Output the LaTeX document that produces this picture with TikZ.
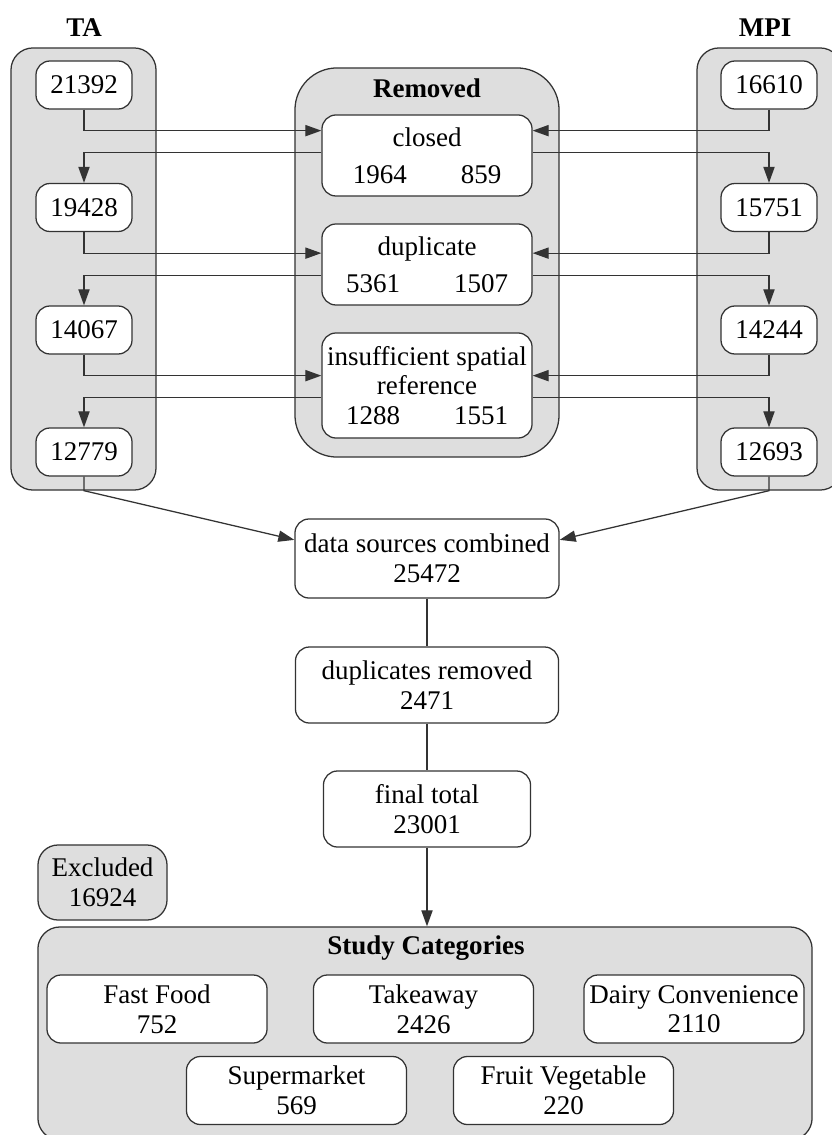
\documentclass[tikz,border=0pt]{standalone}
\usepackage{fontspec}
\setmainfont{Liberation Serif}
\usetikzlibrary{arrows.meta}
\newcommand{\flowfont}{\fontsize{19.2}{21}\selectfont}

\begin{document}
\begin{tikzpicture}[x=0.025cm, y=-0.025cm,
    line/.style={draw=black!80, line width=0.9pt},
    arr/.style={line, -{Triangle[length=0.4cm, width=0.28cm]}},
    group/.style={draw=black!80, line width=0.9pt, fill=black!13, rounded corners=0.55cm},
    box/.style={draw=black!80, line width=0.9pt, fill=white, rounded corners=0.35cm,
        font=\flowfont, align=center, inner sep=2pt},
    numbox/.style={box, minimum width=2.4cm, minimum height=1.2cm},
    catbox/.style={box, minimum width=5.5cm, minimum height=1.7cm},
    title/.style={font=\flowfont\bfseries}]

    \useasboundingbox (0,0) rectangle (832,1135);
    \clip (0,0) rectangle (832,1135);

    % Containers
    \node[group, minimum width=3.625cm, minimum height=11.05cm] (ta) at (83.5,269) {};
    \node[group, minimum width=3.625cm, minimum height=11.05cm] (mpi) at (769.5,269) {};
    \node[group, minimum width=6.6cm, minimum height=9.725cm, rounded corners=1.05cm] (rem) at (427,262.5) {};
    \node[group, minimum width=19.35cm, minimum height=5.325cm] (study) at (425,1033.5) {};

    % Titles
    \node[title] (tatitle) at (84,28) {TA};
    \node[title] (mpititle) at (765,28) {MPI};
    \node[title] (remtitle) at (427,88) {Removed};
    \node[title] (studytitle) at (426,948) {Study Categories};

    % Source counts
    \foreach \n/\y/\v in {1/85/21392, 2/207.5/19428, 3/330/14067, 4/452/12779} {
        \node[numbox] (t\n) at (84,\y) {\v};
    }
    \foreach \n/\y/\v in {1/85/16610, 2/207.5/15751, 3/330/14244, 4/452/12693} {
        \node[numbox] (m\n) at (769,\y) {\v};
    }

    % Removed reasons
    \node[box, minimum width=5.25cm, minimum height=2.025cm] (closed) at (427,155.5)
        {closed\\[5pt]1964\hspace{2em}859};
    \node[box, minimum width=5.25cm, minimum height=2.025cm] (dup) at (427,264.5)
        {duplicate\\[5pt]5361\hspace{2em}1507};
    \node[box, minimum width=5.25cm, minimum height=2.625cm] (insuf) at (427,385.5)
        {insufficient spatial\\reference\\1288\hspace{2em}1551};

    % Main flow
    \node[box, minimum width=6.6cm, minimum height=1.975cm] (dsc) at (427,558.5) {data sources combined\\25472};
    \node[box, minimum width=6.575cm, minimum height=1.9cm] (dr) at (427,685) {duplicates removed\\2471};
    \node[box, minimum width=5.175cm, minimum height=1.9cm] (ft) at (427,809) {final total\\23001};
    \node[box, fill=black!13, minimum width=3.225cm, minimum height=1.875cm, rounded corners=0.5cm] (excl)
        at (102.5,882.5) {Excluded\\16924};

    % Categories
    \node[catbox] (fastfood) at (157,1009) {Fast Food\\752};
    \node[catbox] (takeaway) at (423.5,1009) {Takeaway\\2426};
    \node[catbox] (dairy) at (694,1009) {Dairy Convenience\\2110};
    \node[catbox] (supermkt) at (296.5,1090.5) {Supermarket\\569};
    \node[catbox] (fruitveg) at (563.5,1090.5) {Fruit Vegetable\\220};

    % TA side connectors
    \foreach \i/\j/\r in {1/2/closed, 2/3/dup, 3/4/insuf} {
        \coordinate (tin\i) at ([yshift=-0.525cm]t\i.south);
        \coordinate (tout\i) at ([yshift=0.75cm]t\j.north);
        \draw[arr] (t\i.south) -- (tin\i) -- (tin\i -| \r.west);
        \draw[arr] (tout\i -| \r.west) -- (tout\i) -- (t\j.north);
    }

    % MPI side connectors
    \foreach \i/\j/\r in {1/2/closed, 2/3/dup, 3/4/insuf} {
        \coordinate (min\i) at ([yshift=-0.525cm]m\i.south);
        \coordinate (mout\i) at ([yshift=0.75cm]m\j.north);
        \draw[arr] (m\i.south) -- (min\i) -- (min\i -| \r.east);
        \draw[arr] (mout\i -| \r.east) -- (mout\i) -- (m\j.north);
    }

    % Combining
    \draw[arr] (t4.south) -- (t4.south |- ta.south) -- (dsc.172);
    \draw[arr] (m4.south) -- (m4.south |- mpi.south) -- (dsc.8);
    \draw[line] (dsc) -- (dr);
    \draw[line] (dr) -- (ft);
    \draw[arr] (ft.south) -- (ft.south |- study.north);

\end{tikzpicture}
\end{document}
